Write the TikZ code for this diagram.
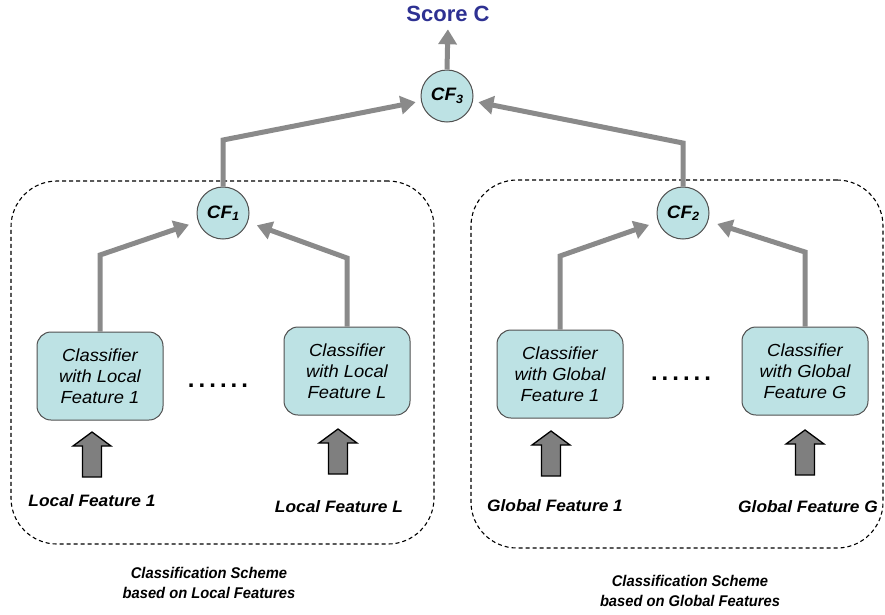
\documentclass[tikz,border=0pt]{standalone}
\usepackage{fontspec}
\setmainfont{Liberation Sans}
\newfontfamily\widefont[FakeStretch=1.05]{Liberation Sans}
\newfontfamily\narrowfont[FakeStretch=0.95]{Liberation Sans}
\usetikzlibrary{arrows.meta}
\definecolor{cyanfill}{HTML}{BDE2E4}
\definecolor{conngray}{HTML}{8A8A8A}
\definecolor{scorenavy}{HTML}{2E3192}
\definecolor{edgegray}{HTML}{505050}
\definecolor{blockgray}{HTML}{7F7F7F}
\tikzset{
  cfnode/.style={circle, draw=edgegray, line width=1pt, fill=cyanfill, minimum size=52pt, inner sep=0pt},
  clbox/.style={rounded corners=14pt, draw=edgegray, line width=1pt, fill=cyanfill, minimum width=126pt, minimum height=88pt, align=center, inner sep=0pt, font=\widefont\itshape\fontsize{17.5}{21}\selectfont},
  conn/.style={draw=conngray, line width=5pt, -{Triangle[length=15pt,width=18pt]}},
  scheme/.style={draw=black, dash pattern=on 4pt off 3pt, line width=1.1pt, rounded corners=46pt, inner sep=0pt},
  featlabel/.style={font=\widefont\bfseries\itshape\fontsize{16.5}{18}\selectfont},
  schemecap/.style={align=center, font=\narrowfont\bfseries\itshape\fontsize{15.5}{20}\selectfont},
  blockarr/.style={draw=black, line width=1.3pt, fill=blockgray, line join=miter},
  dotsnode/.style={font=\bfseries\fontsize{24}{24}\selectfont, inner sep=0pt}
}
\newcommand\cflabel[1]{{\widefont\bfseries\itshape\fontsize{18}{18}\selectfont CF\raisebox{-2.5pt}{\fontsize{12}{12}\selectfont #1}}}
\newcommand\upblock[1]{\draw[blockarr] ([xshift=-9.5pt]#1) -- ++(0,-31) -- ++(-9.5,0) -- ++(19,-14) -- ++(19,14) -- ++(-9.5,0) -- ++(0,31) -- cycle;}
\newcommand\sixdots{.\hspace{4pt}.\hspace{4pt}.\hspace{4pt}.\hspace{4pt}.\hspace{4pt}.}
\begin{document}
\begin{tikzpicture}[x=1pt,y=-1pt]
\useasboundingbox (0,0) rectangle (885,614);
% scheme boxes
\node[scheme, minimum width=423pt, minimum height=363pt] (lscheme) at (222.5,362.5) {};
\node[scheme, minimum width=412pt, minimum height=368pt] (rscheme) at (677,364) {};
% score
\node[font=\bfseries\fontsize{22}{22}\selectfont, text=scorenavy] (score) at (448,14) {Score C};
% CF nodes
\node[cfnode] (cf3) at (447,96) {\cflabel{3}};
\node[cfnode] (cf1) at (223,213) {\cflabel{1}};
\node[cfnode] (cf2) at (683,213) {\cflabel{2}};
% classifier boxes
\node[clbox] (b1) at (100,376) {Classifier\\with Local\\Feature 1};
\node[clbox] (bL) at (347,371) {Classifier\\with Local\\Feature L};
\node[clbox] (g1) at (560,374) {Classifier\\with Global\\Feature 1};
\node[clbox] (gG) at (805,371) {Classifier\\with Global\\Feature G};
% dots
\node[dotsnode] (dotsl) at (218,386) {\sixdots};
\node[dotsnode] (dotsr) at (681,379) {\sixdots};
% connectors
\draw[conn, shorten >=4pt] (cf3.north) -- (score.south);
\draw[conn, shorten >=32pt] (cf1.north) -- (cf1.north |- 0,140) -- (cf3.center);
\draw[conn, shorten >=32pt] (cf2.north) -- (cf2.north |- 0,143) -- (cf3.center);
\draw[conn, shorten >=36pt] (b1.north) -- (b1.north |- 0,255) -- (cf1.center);
\draw[conn, shorten >=36pt] (bL.north) -- (bL.north |- 0,258) -- (cf1.center);
\draw[conn, shorten >=36pt] (g1.north) -- (g1.north |- 0,256) -- (cf2.center);
\draw[conn, shorten >=36pt] (gG.north) -- (gG.north |- 0,252) -- (cf2.center);
% block arrows
\coordinate (a1) at (92,477);
\coordinate (aL) at (338,474);
\coordinate (a2) at (551,476);
\coordinate (aG) at (805,475);
\upblock{a1}
\upblock{aL}
\upblock{a2}
\upblock{aG}
% feature labels
\node[featlabel] (lf1) at (92,501) {Local Feature 1};
\node[featlabel] (lfL) at (339,507) {Local Feature L};
\node[featlabel] (gf1) at (555,506) {Global Feature 1};
\node[featlabel] (gfG) at (808,507) {Global Feature G};
% captions
\node[schemecap] (capl) at (209,583) {Classification Scheme\\based on Local Features};
\node[schemecap] (capr) at (690,591) {Classification Scheme\\based on Global Features};
\end{tikzpicture}
\end{document}
